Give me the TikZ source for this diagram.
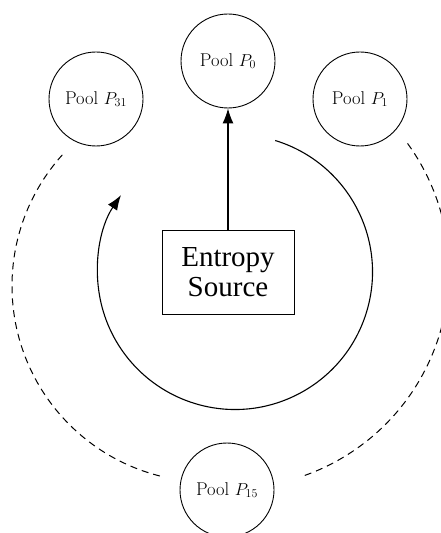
\documentclass[tikz,border=0pt]{standalone}
\usepackage{fontspec}
\newfontfamily\timesfont{Liberation Serif}
\usetikzlibrary{arrows.meta}
\begin{document}
\begin{tikzpicture}[x=1pt,y=1pt,
  pool/.style={draw, circle, line width=0.9pt, minimum size=94pt, inner sep=0pt,
    font=\fontsize{18.5}{21}\selectfont},
  srcbox/.style={draw, line width=0.9pt, minimum width=132pt, minimum height=84pt,
    align=center, font=\timesfont\fontsize{29}{30}\selectfont},
  feed/.style={line width=1.1pt, -{Latex[length=15pt,width=11pt]}},
  ring/.style={line width=1pt, dash pattern=on 7pt off 5pt}]
  \useasboundingbox (0,0) rectangle (441,533);

  % pools
  \node[pool] (p0)  at (228,472) {Pool $P_0$};
  \node[pool] (p31) at (96,434)  {Pool $P_{31}$};
  \node[pool] (p1)  at (360,434) {Pool $P_1$};
  \node[pool] (p15) at (227,43)  {Pool $P_{15}$};

  % entropy source
  \node[srcbox] (src) at (228,261) {Entropy\\Source};
  \draw[feed] (src.north) -- (p0.south);

  % rotation around the pools
  \coordinate (rot) at (235,261);
  \draw[feed] ([shift={(73:137.5)}]rot) arc[start angle=73, end angle=-214, radius=137.5pt];

  % remaining pools, left and right
  \coordinate (lring) at (208,247);
  \coordinate (rring) at (232,262);
  \draw[ring] ([shift={(138:196)}]lring) arc[start angle=138, end angle=257, radius=196pt];
  \draw[ring] ([shift={(36:217)}]rring) arc[start angle=36, end angle=-71, radius=217pt];
\end{tikzpicture}
\end{document}
